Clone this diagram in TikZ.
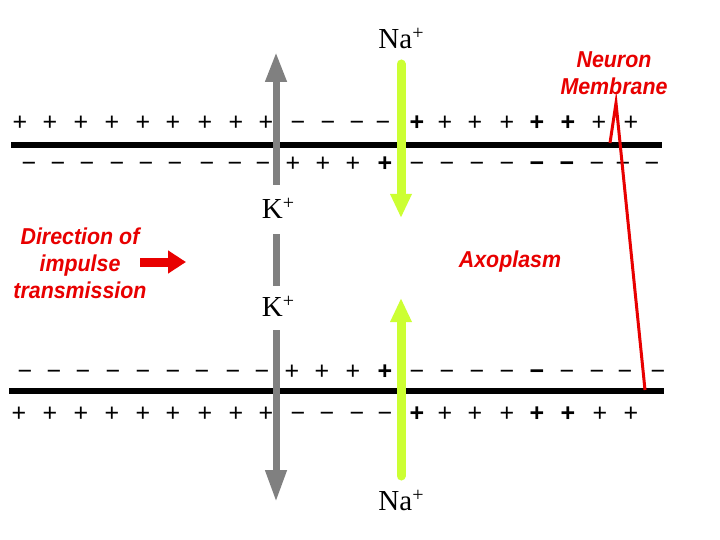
\documentclass[tikz,border=0pt]{standalone}
\usepackage{fontspec}
\setmainfont{Liberation Serif}
\newfontfamily\signfont{Liberation Sans}
\newfontfamily\labfont{Liberation Sans}
\usetikzlibrary{arrows.meta}
\definecolor{redlab}{RGB}{232,0,0}
\definecolor{naGreen}{RGB}{204,255,51}
\definecolor{kGray}{RGB}{128,128,128}
\newcommand\ionplus{\raisebox{9pt}{\fontsize{20}{20}\selectfont +}}
\tikzset{
  sgn/.style={anchor=base,inner sep=0pt,font=\signfont\fontsize{25}{25}\selectfont},
  sgnb/.style={sgn,font=\signfont\bfseries\fontsize{25}{25}\selectfont},
  membrane/.style={line width=5.5pt},
  ion/.style={inner sep=0pt,font=\fontsize{29}{29}\selectfont},
  redtxt/.style={inner sep=0pt,text=redlab,align=center,xscale=0.93,font=\labfont\bfseries\itshape\fontsize{23}{27}\selectfont},
  karrow/.style={draw=kGray,line width=7pt},
  naarrow/.style={draw=naGreen,line width=9pt,line cap=round},
}
\begin{document}
\begin{tikzpicture}[x=1pt,y=-1pt]
\useasboundingbox[fill=white] (0,0) rectangle (720,540);
% membranes
\coordinate (m1a) at (11,145); \coordinate (m1b) at (662,145);
\coordinate (m2a) at (9,391);  \coordinate (m2b) at (664,391);
\draw[membrane] (m1a) -- (m1b);
\draw[membrane] (m2a) -- (m2b);
% top, outside
\foreach \x [count=\i] in {20,50,81,112,143,173,205,236,266,445,475,507,599,631}
  \node[sgn] (ta\i) at (\x,131) {+};
\foreach \x [count=\i] in {417,537,568}
  \node[sgnb] (tab\i) at (\x,131) {+};
\foreach \x [count=\i] in {298,328,357,383}
  \node[sgn] (tam\i) at (\x,131) {−};
% top, inside
\foreach \x [count=\i] in {29,58,87,117,146,175,207,235,263,417,447,477,507,597,623,652}
  \node[sgn] (tb\i) at (\x,172) {−};
\foreach \x [count=\i] in {537,567}
  \node[sgnb] (tbb\i) at (\x,172) {−};
\foreach \x [count=\i] in {293,323,353}
  \node[sgn] (tbp\i) at (\x,172) {+};
\node[sgnb] (tbpb) at (385,172) {+};
% bottom, inside
\foreach \x [count=\i] in {25,54,83,113,143,173,202,233,262,417,447,477,507,567,597,625,658}
  \node[sgn] (ba\i) at (\x,379) {−};
\node[sgnb] (bab) at (537,379) {−};
\foreach \x [count=\i] in {292,322,353}
  \node[sgn] (bap\i) at (\x,379) {+};
\node[sgnb] (bapb) at (385,379) {+};
% bottom, outside
\foreach \x [count=\i] in {19,50,81,112,143,173,205,236,266,445,475,507,600,631}
  \node[sgn] (bb\i) at (\x,421) {+};
\foreach \x [count=\i] in {417,537,568}
  \node[sgnb] (bbb\i) at (\x,421) {+};
\foreach \x [count=\i] in {298,327,357,385}
  \node[sgn] (bbm\i) at (\x,421) {−};
% K+ channel
\node[ion] (k1) at (278,208) {K\ionplus};
\node[ion] (k2) at (278,306) {K\ionplus};
\coordinate (ktop) at (276,52);
\coordinate (kbot) at (276,502);
\coordinate (k1a) at (276,185);
\coordinate (kma) at (276,234);
\coordinate (kmb) at (276,286);
\coordinate (k2b) at (276,330);
\draw[karrow,-{Triangle[width=20pt,length=30pt]}] (k1a) -- (ktop);
\draw[karrow] (kma) -- (kmb);
\draw[karrow,-{Triangle[width=20pt,length=32pt]}] (k2b) -- (kbot);
% Na+ channel
\node[ion] (na1) at (401,38) {Na\ionplus};
\node[ion] (na2) at (401,500) {Na\ionplus};
\coordinate (n1a) at (401,64);  \coordinate (n1b) at (401,218);
\coordinate (n2a) at (401,476); \coordinate (n2b) at (401,298);
\draw[naarrow,-{Triangle[width=20pt,length=24pt]}] (n1a) -- (n1b);
\draw[naarrow,-{Triangle[width=20pt,length=24pt]}] (n2a) -- (n2b);
% labels
\node[redtxt] (dir) at (80,263) {Direction of\\impulse\\transmission};
\coordinate (da) at (140,262); \coordinate (db) at (186,262);
\draw[draw=redlab,line width=9pt,-{Triangle[width=22pt,length=18pt]}] (da) -- (db);
\node[redtxt] (axo) at (510,262) {Axoplasm};
\node[redtxt] (nm) at (614,73) {Neuron\\Membrane};
\coordinate (p1) at (610,143); \coordinate (p2) at (616,103); \coordinate (p3) at (645,390);
\draw[draw=redlab,line width=3pt,line join=miter] (p1) -- (p2) -- (p3);
\end{tikzpicture}
\end{document}
